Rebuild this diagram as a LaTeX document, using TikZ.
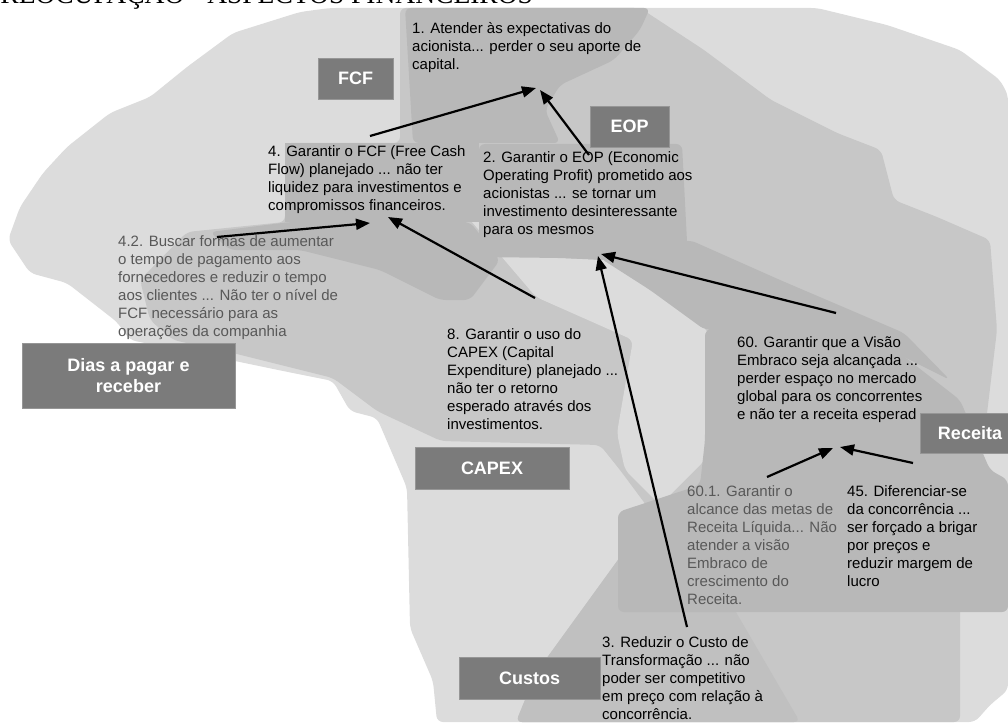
\documentclass[tikz,border=0pt]{standalone}
\usepackage{fontspec}
\setmainfont{Liberation Sans}
\newfontfamily\titulo{Liberation Serif}
\usepackage{tikz}
\usetikzlibrary{arrows.meta}
\definecolor{cinzaclaro}{RGB}{220,220,220}
\definecolor{cinzamedio}{RGB}{199,199,199}
\definecolor{cinzaescuro}{RGB}{184,184,184}
\definecolor{cinzafundo}{RGB}{192,192,192}
\definecolor{caixacinza}{RGB}{123,123,123}
\definecolor{caixaborda}{RGB}{150,150,150}
\definecolor{textocinza}{RGB}{88,88,88}

\begin{document}
\begin{tikzpicture}[x=1pt, y=-1pt,
		mancha/.style={rounded corners=6pt},
		rotulo/.style={fill=caixacinza, draw=caixaborda, line width=0.8pt, text=white, inner sep=0pt, align=center, font=\fontsize{18}{21}\selectfont\bfseries},
		texto/.style={anchor=north west, inner sep=0pt, align=left, font=\fontsize{15}{18}\selectfont, execute at begin node={\rule{0pt}{12pt}}},
		seta/.style={line width=2.2pt, -{Triangle[length=14pt,width=11pt]}}]
	\useasboundingbox (0,0) rectangle (1008,722);
	\clip (0,0) rectangle (1008,722);
	% Titulo (cortado no topo)
	\node[anchor=base west, inner sep=0pt, font=\titulo\fontsize{27.5}{30}\selectfont] (titulo) at (-15,4) {PREOCUPAÇÃO - ASPECTOS FINANCEIROS};
	% Manchas de fundo
	\fill[mancha, cinzaclaro] (330,8) -- (817,8) -- (887,25) -- (960,50) -- (1000,80) -- (1008,95) -- (1008,690) -- (990,705) -- (975,722) -- (437,722) -- (433,681) -- (410,628) -- (407,488) -- (377,418) -- (350,411) -- (333,381) -- (283,371) -- (235,361) -- (130,340) -- (117,322) -- (67,283) -- (30,273) -- (8,240) -- (20,207) -- (43,173) -- (67,147) -- (110,113) -- (150,97) -- (187,67) -- (233,33) -- (300,12) -- cycle;
	\fill[mancha, cinzamedio] (400,8) -- (640,8) -- (704,50) -- (771,100) -- (837,133) -- (881,150) -- (894,200) -- (937,217) -- (990,240) -- (997,330) -- (985,430) -- (965,460) -- (975,540) -- (960,600) -- (960,722) -- (516,722) -- (536,673) -- (652,513) -- (620,470) -- (600,445) -- (441,441) -- (377,411) -- (333,378) -- (233,353) -- (173,340) -- (150,320) -- (140,280) -- (187,232) -- (285,222) -- (285,143) -- (400,143) -- cycle;
	\fill[mancha, cinzaclaro] (466,215) -- (485,222) -- (560,258) -- (650,262) -- (714,340) -- (705,460) -- (660,505) -- (625,470) -- (617,433) -- (633,340) -- (536,297) -- cycle;
	\fill[mancha, cinzafundo] (516,722) -- (536,673) -- (652,513) -- (700,500) -- (733,607) -- (800,722) -- cycle;
	\fill[mancha, cinzaescuro] (405,8) -- (650,8) -- (640,30) -- (614,60) -- (560,85) -- (545,110) -- (560,143) -- (413,143) -- cycle;
	\fill[cinzaescuro] (285,143) rectangle (479,222);
	\fill[mancha, cinzaescuro] (479,144) -- (682,144) -- (690,300) -- (650,262) -- (560,258) -- (479,257) -- cycle;
	\fill[mancha, cinzaescuro] (210,232) -- (290,222) -- (470,222) -- (500,260) -- (470,300) -- (440,300) -- (380,270) -- (300,250) -- (230,250) -- cycle;
	\fill[mancha, cinzaescuro] (705,330) -- (780,310) -- (870,330) -- (960,400) -- (990,470) -- (1008,480) -- (1008,612) -- (618,612) -- (618,512) -- (700,485) -- (705,440) -- cycle;
	\fill[mancha, cinzaescuro] (600,258) -- (690,240) -- (780,280) -- (904,333) -- (950,380) -- (870,340) -- (780,320) -- (705,330) -- (650,290) -- cycle;
	% Textos
	\node[texto] (t1) at (412,22) {1. Atender às expectativas do\\acionista... perder o seu aporte de\\capital.};
	\node[texto] (t4) at (268,145) {4. Garantir o FCF (Free Cash\\Flow) planejado ... não ter\\liquidez para investimentos e\\compromissos financeiros.};
	\node[texto] (t2) at (483,151) {2. Garantir o EOP (Economic\\Operating Profit) prometido aos\\acionistas ... se tornar um\\investimento desinteressante\\para os mesmos};
	\node[texto, text=textocinza] (t42) at (118,235) {4.2. Buscar formas de aumentar\\o tempo de pagamento aos\\fornecedores e reduzir o tempo\\aos clientes ... Não ter o nível de\\FCF necessário para as\\operações da companhia};
	\node[texto] (t8) at (447,328) {8. Garantir o uso do\\CAPEX (Capital\\Expenditure) planejado ...\\não ter o retorno\\esperado através dos\\investimentos.};
	\node[texto] (t60) at (737,336) {60. Garantir que a Visão\\Embraco seja alcançada ...\\perder espaço no mercado\\global para os concorrentes\\e não ter a receita esperad};
	\node[texto, text=textocinza] (t601) at (687,485) {60.1. Garantir o\\alcance das metas de\\Receita Líquida... Não\\atender a visão\\Embraco de\\crescimento do\\Receita.};
	\node[texto] (t45) at (847,485) {45. Diferenciar-se\\da concorrência ...\\ser forçado a brigar\\por preços e\\reduzir margem de\\lucro};
	\node[texto] (t3) at (602,636) {3. Reduzir o Custo de\\Transformação ... não\\poder ser competitivo\\em preço com relação à\\concorrência.};
	% Pontas das setas
	\coordinate (t4sai) at (370,136);   \coordinate (t1ent) at (536,88);
	\coordinate (t2sai) at (589,155);   \coordinate (t1ent2) at (540,90);
	\coordinate (t42sai) at (217,237);  \coordinate (t4ent) at (370,223);
	\coordinate (t8sai) at (535,298);   \coordinate (t4ent2) at (388,217);
	\coordinate (t60sai) at (836,313);  \coordinate (t2ent) at (601,254);
	\coordinate (t3sai) at (687,627);   \coordinate (t2ent2) at (598,256);
	\coordinate (t601sai) at (767,477); \coordinate (t60ent) at (833,448);
	\coordinate (t45sai) at (913,463);  \coordinate (t60ent2) at (840,447);
	\foreach \a/\b in {t4sai/t1ent, t2sai/t1ent2, t42sai/t4ent, t8sai/t4ent2, t60sai/t2ent, t3sai/t2ent2, t601sai/t60ent, t45sai/t60ent2}
		\draw[seta] (\a) -- (\b);
	% Caixas
	\node[rotulo, minimum width=75pt, minimum height=41pt] (fcf) at (355.5,78.5) {FCF};
	\node[rotulo, minimum width=79pt, minimum height=41pt] (eop) at (629.5,126.5) {EOP};
	\node[rotulo, minimum width=213pt, minimum height=65pt] (dias) at (128.5,375.5) {Dias a pagar e\\receber};
	\node[rotulo, minimum width=154pt, minimum height=42pt] (capex) at (492,468) {CAPEX};
	\node[rotulo, minimum width=141pt, minimum height=42pt] (custos) at (529.5,678) {Custos};
	\node[rotulo, minimum width=100pt, minimum height=40pt] (receita) at (970,433) {Receita};
\end{tikzpicture}
\end{document}
